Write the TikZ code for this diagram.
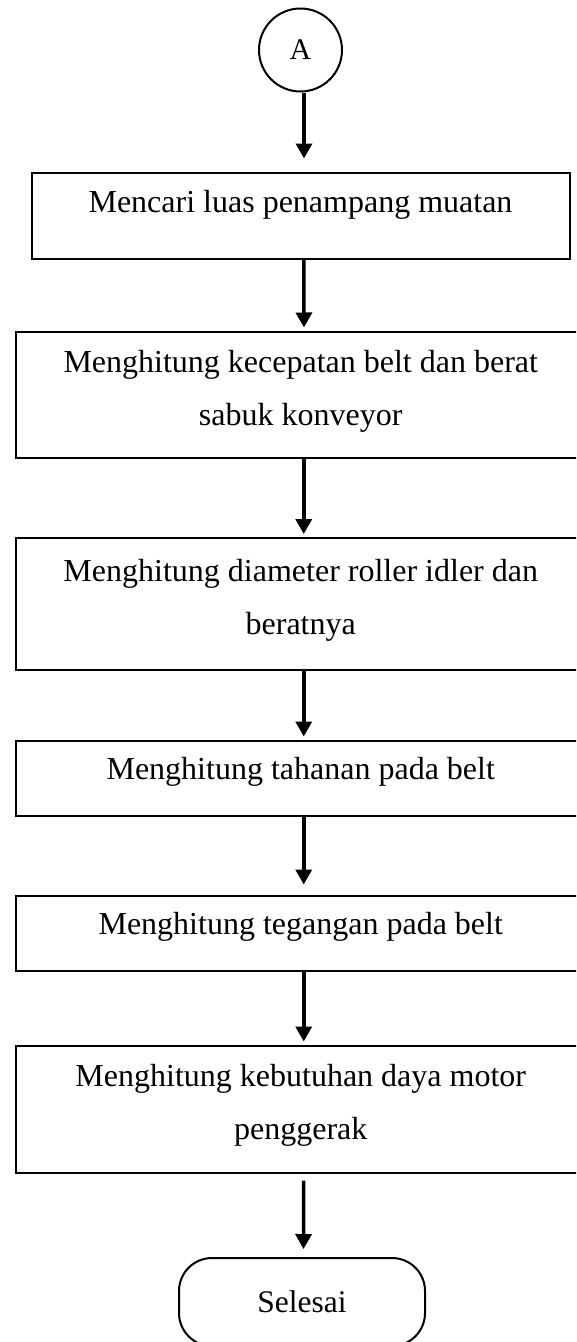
\documentclass[tikz,border=0pt]{standalone}
\usepackage{fontspec}
\setmainfont{Liberation Serif}
\usetikzlibrary{arrows.meta}
\begin{document}
\begin{tikzpicture}[x=1pt,y=-1pt,
  stepbox/.style={draw,line width=2pt,rectangle,inner sep=0pt},
  lbl/.style={inner sep=0pt,align=center,font=\fontsize{32}{53}\selectfont},
  connector/.style={draw,line width=2pt,circle,inner sep=0pt,minimum size=83pt,font=\fontsize{30}{36}\selectfont},
  terminal/.style={draw,line width=2pt,rectangle,rounded corners=33pt,inner sep=0pt,font=\fontsize{31.5}{36}\selectfont},
  flow/.style={line width=3.5pt,-{Triangle[width=16pt,length=15pt]}}]
\useasboundingbox (0,0) rectangle (576,1342);
\clip (0,0) rectangle (576,1342);

% off-page connector and process steps
\node[connector] (start) at (300.5,50) {A};
\node[stepbox,minimum width=538pt,minimum height=86pt] (b1) at (300.5,215.5) {};
\node[stepbox,minimum width=570pt,minimum height=126pt] (b2) at (300.75,394.5) {};
\node[stepbox,minimum width=570pt,minimum height=132pt] (b3) at (300.75,604) {};
\node[stepbox,minimum width=570pt,minimum height=75pt] (b4) at (300.75,778) {};
\node[stepbox,minimum width=570pt,minimum height=75pt] (b5) at (300.75,933) {};
\node[stepbox,minimum width=570pt,minimum height=127pt] (b6) at (300.75,1109) {};
\node[terminal,minimum width=246pt,minimum height=88pt] (finish) at (302,1302) {Selesai};

% step texts
\node[lbl] (t1) at (300.5,205) {Mencari luas penampang muatan};
\node[lbl] (t2) at (300.75,391) {Menghitung kecepatan belt dan berat\\sabuk konveyor};
\node[lbl] (t3) at (300.75,600) {Menghitung diameter roller idler dan\\beratnya};
\node[lbl] (t4) at (300.75,772) {Menghitung tahanan pada belt};
\node[lbl] (t5) at (300.75,927) {Menghitung tegangan pada belt};
\node[lbl] (t6) at (300.75,1105) {Menghitung kebutuhan daya motor\\penggerak};

% flow arrows
\draw[flow,shorten >=13pt] ([xshift=3.5pt]start.south) -- ([xshift=3.5pt]start.south |- b1.north);
\draw[flow,shorten >=3pt] ([xshift=3.25pt]b1.south) -- ([xshift=3.25pt]b2.north);
\draw[flow,shorten >=3pt] ([xshift=3pt]b2.south) -- ([xshift=3pt]b3.north);
\draw[flow,shorten >=3pt] ([xshift=3pt]b3.south) -- ([xshift=3pt]b4.north);
\draw[flow,shorten >=10pt] ([xshift=3pt]b4.south) -- ([xshift=3pt]b5.north);
\draw[flow,shorten >=3pt] ([xshift=3pt]b5.south) -- ([xshift=3pt]b6.north);
\draw[flow,shorten <=7pt,shorten >=8pt] ([xshift=3pt]b6.south) -- ([xshift=1.5pt]finish.north);
\end{tikzpicture}
\end{document}
